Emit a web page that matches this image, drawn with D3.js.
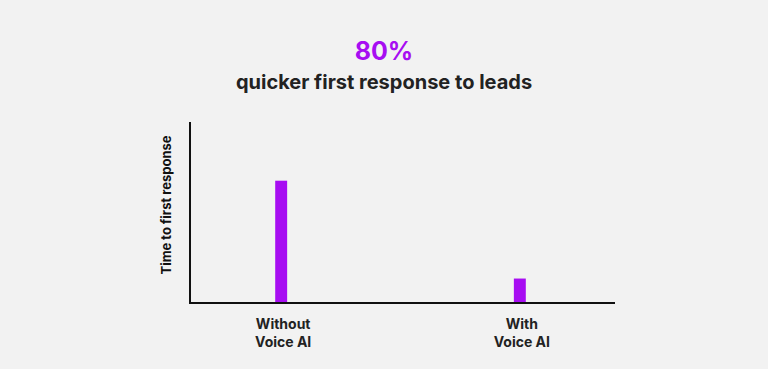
<!DOCTYPE html>
<html lang="en">
<head>
  <meta charset="UTF-8">
  <title>Time to first response</title>
  <style>
  * { margin: 0; padding: 0; }
  body { background: #f2f2f2; }
  svg { display: block; font-family: Inter, "Noto Sans", sans-serif; }
  </style>
  <script src="https://cdn.jsdelivr.net/npm/d3@7/dist/d3.min.js"></script>
</head>
<body>
<svg width="768" height="369" id="chart"></svg>
<script>
// data
const categories = ["Without\nVoice AI", "With\nVoice AI"];
const values = [100, 20];
const headline = "80%";
const subtitle = "quicker first response to leads";
const yTitle = "Time to first response";

const purple = "#a70df2";
const ink = "#222";

const svg = d3.select("#chart");
const margin = { left: 190, right: 153, top: 122, bottom: 66 };
const width = +svg.attr("width");
const height = +svg.attr("height");

svg.append("rect").attr("width", width).attr("height", height).attr("fill", "#f2f2f2");

// scales
const x = d3.scaleBand()
  .domain(categories)
  .range([margin.left, 611])
  .paddingInner(0.95)
  .paddingOuter(0.357);
const y = d3.scaleLinear()
  .domain([0, 148])
  .range([height - margin.bottom, margin.top]);

// bars
svg.append("g").selectAll("rect").data(values).enter()
  .append("rect")
  .attr("x", (d, i) => x(categories[i]))
  .attr("y", d => y(d))
  .attr("width", x.bandwidth())
  .attr("height", d => y(0) - y(d))
  .attr("fill", purple);

// axes (plain lines, no ticks)
const xAxis = svg.append("g")
  .attr("transform", `translate(0,${y(0)})`)
  .call(d3.axisBottom(x).tickSize(0).tickFormat(""));
xAxis.select(".domain").attr("stroke", "#111").attr("stroke-width", 2)
  .attr("d", `M${margin.left - 1},0H${width - margin.right}`);

const yAxis = svg.append("g")
  .attr("transform", `translate(${margin.left},0)`)
  .call(d3.axisLeft(y).tickSize(0).tickFormat(""));
yAxis.select(".domain").attr("stroke", "#111").attr("stroke-width", 2)
  .attr("d", `M0,${margin.top}V${y(0) + 1}`);

// category labels
const labels = svg.append("g").selectAll("text").data(categories).enter()
  .append("text")
  .attr("text-anchor", "middle")
  .attr("font-size", 14)
  .attr("font-weight", 700)
  .attr("fill", ink)
  .attr("transform", d => `translate(${x(d) + x.bandwidth() / 2 + 2},329)`);
labels.selectAll("tspan").data(d => d.split("\n")).enter()
  .append("tspan")
  .attr("x", 0)
  .attr("dy", (d, i) => i === 0 ? 0 : 18)
  .text(d => d);

// y title
svg.append("text")
  .attr("transform", `translate(171,205) rotate(-90)`)
  .attr("text-anchor", "middle")
  .attr("font-size", 13)
  .attr("font-weight", 700)
  .attr("fill", "#111")
  .text(yTitle);

// headline
svg.append("text")
  .attr("x", 384).attr("y", 60)
  .attr("text-anchor", "middle")
  .attr("font-size", 25)
  .attr("font-weight", 700)
  .attr("fill", purple)
  .text(headline);

svg.append("text")
  .attr("x", 384).attr("y", 89)
  .attr("text-anchor", "middle")
  .attr("font-size", 20)
  .attr("font-weight", 700)
  .attr("fill", ink)
  .text(subtitle);
</script>
</body>
</html>
